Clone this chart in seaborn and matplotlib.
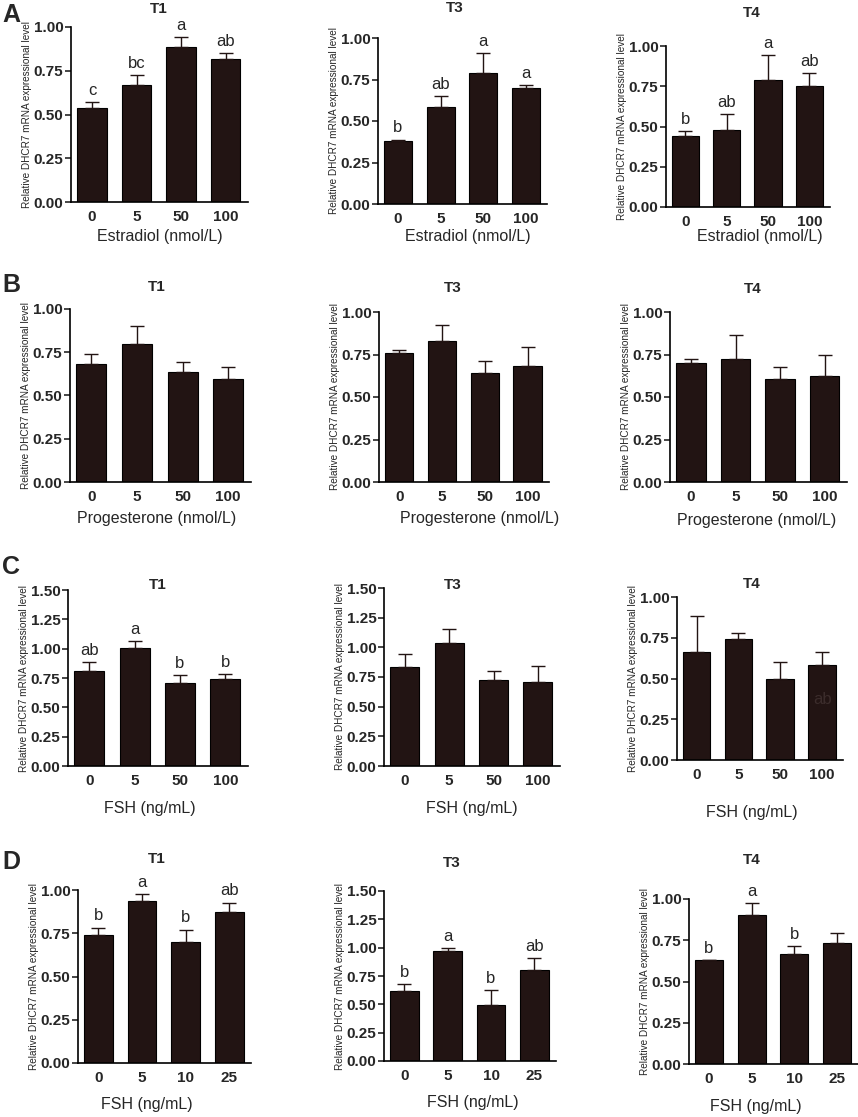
import matplotlib
matplotlib.use("Agg")
import matplotlib.pyplot as plt
import numpy as np
import seaborn as sns

# doses on the x axis
doses = ["0", "5", "50", "100"]
doses_fsh_d = ["0", "5", "10", "25"]

# A - Estradiol
a_t1_mean = [0.537, 0.667, 0.884, 0.817]
a_t1_sem = [0.034, 0.059, 0.059, 0.034]
a_t1_sig = ["c", "bc", "a", "ab"]
a_t3_mean = [0.380, 0.584, 0.787, 0.698]
a_t3_sem = [0.008, 0.066, 0.124, 0.016]
a_t3_sig = ["b", "ab", "a", "a"]
a_t4_mean = [0.440, 0.479, 0.788, 0.753]
a_t4_sem = [0.029, 0.096, 0.154, 0.077]
a_t4_sig = ["b", "ab", "a", "ab"]

# B - Progesterone
b_t1_mean = [0.681, 0.797, 0.638, 0.594]
b_t1_sem = [0.058, 0.104, 0.056, 0.073]
b_t3_mean = [0.757, 0.831, 0.643, 0.680]
b_t3_sem = [0.021, 0.094, 0.069, 0.114]
b_t4_mean = [0.700, 0.724, 0.608, 0.622]
b_t4_sem = [0.025, 0.139, 0.070, 0.123]

# C - FSH
c_t1_mean = [0.810, 1.009, 0.710, 0.741]
c_t1_sem = [0.074, 0.053, 0.068, 0.043]
c_t1_sig = ["ab", "a", "b", "b"]
c_t3_mean = [0.831, 1.039, 0.727, 0.707]
c_t3_sem = [0.110, 0.119, 0.070, 0.132]
c_t4_mean = [0.661, 0.745, 0.500, 0.582]
c_t4_sem = [0.225, 0.035, 0.100, 0.079]

# D - FSH (low doses)
d_t1_mean = [0.737, 0.938, 0.700, 0.875]
d_t1_sem = [0.046, 0.037, 0.071, 0.052]
d_t1_sig = ["b", "a", "b", "ab"]
d_t3_mean = [0.618, 0.971, 0.497, 0.800]
d_t3_sem = [0.061, 0.023, 0.132, 0.106]
d_t3_sig = ["b", "a", "b", "ab"]
d_t4_mean = [0.632, 0.901, 0.665, 0.735]
d_t4_sem = [0.0, 0.073, 0.048, 0.057]
d_t4_sig = ["b", "a", "b", ""]

BAR = "#221413"
YLAB = "Relative DHCR7 mRNA expressional level"
W, H = 858, 1117

sns.set_style("ticks")
plt.rcParams["font.family"] = ["Liberation Sans", "DejaVu Sans"]

fig = plt.figure(figsize=(W / 100, H / 100), dpi=100)


def px_axes(left, top, right, bottom):
    return fig.add_axes([left / W, 1 - bottom / H, (right - left) / W, (bottom - top) / H])


def draw(box, cats, mean, sem, sig, ytop, title, tpos, xlabel, xpos):
    ax = px_axes(*box)
    sns.barplot(x=cats, y=mean, order=cats, color=BAR, saturation=1,
                edgecolor="black", linewidth=0.8, width=0.66, errorbar=None, ax=ax)
    ax.errorbar(range(len(cats)), mean, yerr=[np.zeros(len(cats)), sem], fmt="none",
                ecolor=BAR, elinewidth=1.0, capsize=5, capthick=1.0, zorder=1)
    if sig:
        for i, s in enumerate(sig):
            ax.annotate(s, (i, mean[i] + sem[i]), xytext=(0, 3), textcoords="offset points",
                        ha="center", va="bottom", fontsize=12)
    ax.set_xlim(-0.47, 3.5)
    ax.set_ylim(0, ytop)
    ax.set_yticks(np.arange(0, ytop + 0.01, 0.25))
    ax.set_yticklabels([f"{v:.2f}" for v in np.arange(0, ytop + 0.01, 0.25)])
    for lab in ax.get_xticklabels() + ax.get_yticklabels():
        lab.set_fontweight("bold")
    ax.tick_params(axis="y", labelsize=11, width=1.2, length=4, pad=1.5)
    ax.tick_params(axis="x", labelsize=11, length=0, pad=6)
    ax.set_ylabel(YLAB, fontsize=7.2, labelpad=1)
    ax.set_xlabel("")
    sns.despine(ax=ax)
    for sp in ["left", "bottom"]:
        ax.spines[sp].set_linewidth(1.2)
        ax.spines[sp].set_color("black")
    fig.text(tpos[0] / W, 1 - tpos[1] / H, title, ha="center", va="center",
             fontsize=11, fontweight="bold")
    fig.text(xpos[0] / W, 1 - xpos[1] / H, xlabel, ha="center", va="center", fontsize=11.5)
    return ax


est = "Estradiol (nmol/L)"
prog = "Progesterone (nmol/L)"
fsh = "FSH (ng/mL)"

draw((71, 27, 248, 202), doses, a_t1_mean, a_t1_sem, a_t1_sig, 1.0, "T1", (159, 9), est, (160, 237))
draw((378, 38, 547, 204), doses, a_t3_mean, a_t3_sem, a_t3_sig, 1.0, "T3", (455, 8), est, (468, 237))
draw((666, 46, 830, 207), doses, a_t4_mean, a_t4_sem, a_t4_sig, 1.0, "T4", (752, 13), est, (760, 237))

draw((70, 309, 251, 482), doses, b_t1_mean, b_t1_sem, None, 1.0, "T1", (157, 287), prog, (157, 518))
draw((379, 312, 549, 482), doses, b_t3_mean, b_t3_sem, None, 1.0, "T3", (453, 288), prog, (480, 518))
draw((670, 312, 847, 482), doses, b_t4_mean, b_t4_sem, None, 1.0, "T4", (753, 289), prog, (757, 520))

draw((68, 590, 248, 766), doses, c_t1_mean, c_t1_sem, c_t1_sig, 1.5, "T1", (158, 585), fsh, (150, 809))
draw((384, 588, 560, 766), doses, c_t3_mean, c_t3_sem, None, 1.5, "T3", (453, 585), fsh, (472, 809))
ax_c4 = draw((677, 597, 843, 760), doses, c_t4_mean, c_t4_sem, None, 1.0, "T4", (752, 584), fsh, (752, 812))
# faint leftover label inside the last bar
ax_c4.text(3, 0.37, "ab", ha="center", va="center", fontsize=12, color="#3b2c2b")

draw((78, 890, 251, 1063), doses_fsh_d, d_t1_mean, d_t1_sem, d_t1_sig, 1.0, "T1", (157, 859), fsh, (147, 1104))
draw((384, 891, 556, 1061), doses_fsh_d, d_t3_mean, d_t3_sem, d_t3_sig, 1.5, "T3", (452, 863), fsh, (473, 1103))
draw((689, 899, 858, 1064), doses_fsh_d, d_t4_mean, d_t4_sem, d_t4_sig, 1.0, "T4", (752, 860), fsh, (756, 1107))

for letter, y in [("A", 15), ("B", 285), ("C", 567), ("D", 862)]:
    fig.text(11 / W, 1 - y / H, letter, ha="center", va="center", fontsize=18, fontweight="bold")

fig.savefig("out.png", dpi=100)
